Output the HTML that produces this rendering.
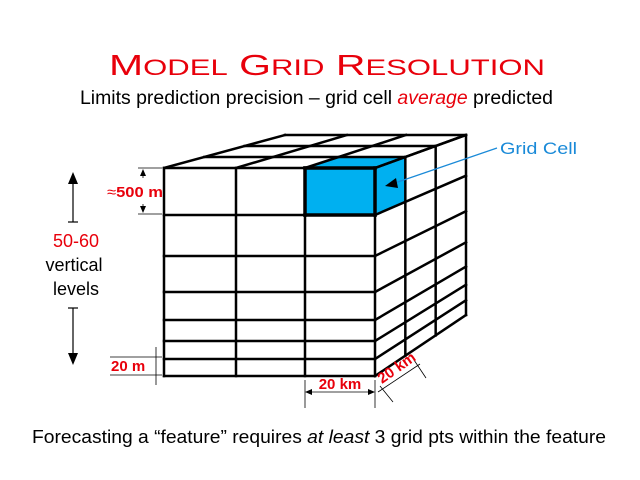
<!DOCTYPE html>
<html><head><meta charset="utf-8"><style>
body{margin:0;background:#fff;}
svg{display:block;font-family:"Liberation Sans",sans-serif;}
</style></head><body>
<svg id="s" width="640" height="480" viewBox="0 0 640 480" xmlns="http://www.w3.org/2000/svg">
<text x="109" y="75" fill="#e8000b" font-size="29" textLength="436" lengthAdjust="spacingAndGlyphs">M<tspan font-size="22">ODEL</tspan> G<tspan font-size="22">RID</tspan> R<tspan font-size="22">ESOLUTION</tspan></text>
<text x="80" y="104" font-size="19" fill="#000" textLength="473" lengthAdjust="spacingAndGlyphs">Limits prediction precision – grid cell <tspan fill="#e8000b" font-style="italic">average</tspan> predicted</text>
<text x="32" y="443" font-size="18.5" fill="#000" textLength="574" lengthAdjust="spacingAndGlyphs">Forecasting a “feature” requires <tspan font-style="italic">at least</tspan> 3 grid pts within the feature</text>
<g id="g" stroke="#000" stroke-width="2.5" fill="none" stroke-linecap="square"></g>
<g font-size="18" text-anchor="middle">
<text x="76" y="247" fill="#e8000b">50-60</text>
<text x="74" y="271" fill="#000">vertical</text>
<text x="76" y="295" fill="#000">levels</text>
</g>
<g stroke="#000" stroke-width="1.2">
<line x1="73" y1="180" x2="73" y2="222"/><line x1="68" y1="222" x2="78" y2="222"/>
<line x1="73" y1="308" x2="73" y2="356"/><line x1="68" y1="308" x2="78" y2="308"/>
</g>
<polygon points="73,172 68,184 78,184" fill="#000"/>
<polygon points="73,365 68,353 78,353" fill="#000"/>
<g stroke="#000" stroke-width="0.8">
<line x1="138" y1="168" x2="162" y2="168"/><line x1="138" y1="214" x2="162" y2="214"/>
<line x1="143" y1="170" x2="143" y2="178"/><line x1="143" y1="204" x2="143" y2="212"/>
<line x1="110" y1="357" x2="162" y2="357"/><line x1="110" y1="375" x2="162" y2="375"/>
<line x1="156" y1="347" x2="156" y2="385"/>
<line x1="305" y1="380" x2="305" y2="408"/><line x1="375" y1="380" x2="375" y2="408"/>
<line x1="307" y1="392" x2="373" y2="392"/>
<line x1="378" y1="392" x2="420" y2="364"/>
<line x1="380" y1="386" x2="393" y2="402"/><line x1="414" y1="360" x2="426" y2="378"/>
</g>
<polygon points="143,169 140,176 146,176" fill="#000"/><polygon points="143,213 140,206 146,206" fill="#000"/>
<polygon points="305,392 312,389 312,395" fill="#000"/><polygon points="375,392 368,389 368,395" fill="#000"/>
<g font-size="15" font-weight="bold" fill="#e8000b">
<text x="107" y="197" textLength="56" lengthAdjust="spacingAndGlyphs"><tspan font-weight="normal">≈</tspan>500 m</text>
<text x="111" y="371">20 m</text>
<text x="340" y="389" text-anchor="middle">20 km</text>
<text x="0" y="0" transform="translate(382,384) rotate(-35)">20 km</text>
</g>
<line x1="497" y1="148" x2="392" y2="184" stroke="#1a8ad8" stroke-width="1.2"/>
<polygon points="385,186 396,178 398,188" fill="#000"/>
<text x="500" y="154" font-size="17" fill="#1a8ad8" textLength="77" lengthAdjust="spacingAndGlyphs">Grid Cell</text>
</svg>
<script>
(function(){
var g=document.getElementById('g'),NS='http://www.w3.org/2000/svg';
var fx=[164,236,305,375],fy=[168,215,256,292,320,341,359,376];
var bx0=285,bx1=466,by0=135,by1=315;
function bX(x){return bx0+(x-164)*(bx1-bx0)/211;}
function bY(y){return by0+(y-168)*(by1-by0)/208;}
function P(x,y,t){
 var X=x,Y=y;
 if(y===168){X=x+(bX(x)-x)*t;Y=168+(by0-168)*t;}
 if(x===375){X=375+(bx1-375)*t;Y=y+(bY(y)-y)*t;}
 return [X,Y];}
function L(a,b,w){var l=document.createElementNS(NS,'line');l.setAttribute('x1',a[0]);l.setAttribute('y1',a[1]);l.setAttribute('x2',b[0]);l.setAttribute('y2',b[1]);if(w)l.setAttribute('stroke-width',w);g.appendChild(l);}
function poly(pts,f){var p=document.createElementNS(NS,'polygon');p.setAttribute('points',pts.map(function(q){return q.join(',')}).join(' '));p.setAttribute('fill',f);p.setAttribute('stroke','none');g.appendChild(p);}
poly([[305,168],[375,168],[375,215],[305,215]],'#00b0f0');
poly([[305,168],P(305,168,1/3),P(375,168,1/3),[375,168]],'#00b0f0');
poly([[375,168],P(375,168,1/3),P(375,215,1/3),[375,215]],'#00b0f0');
fx.forEach(function(x){L([x,168],[x,376]);});
fy.forEach(function(y){L([164,y],[375,y]);});
fx.forEach(function(x){L(P(x,168,0),P(x,168,1));});
[1/3,2/3,1].forEach(function(t){L(P(164,168,t),P(375,168,t));});
fy.forEach(function(y){L(P(375,y,0),P(375,y,1));});
[1/3,2/3,1].forEach(function(t){L(P(375,168,t),P(375,376,t));});
L([305,168],[375,168],3.5);L([305,215],[375,215],3.5);L([305,168],[305,215],3.5);L([375,168],[375,215],3.5);
})();
</script>
</body></html>
